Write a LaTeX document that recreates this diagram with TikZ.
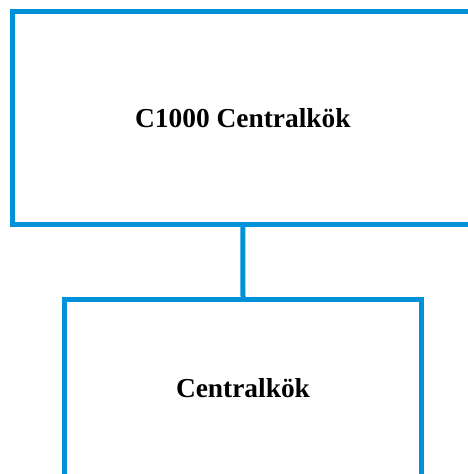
\documentclass[tikz,border=0pt]{standalone}
\usepackage{fontspec}
\setmainfont{Liberation Serif}
\definecolor{boxblue}{RGB}{0,146,216}
\begin{document}
\begin{tikzpicture}[x=1pt,y=1pt,
  orgbox/.style={draw=boxblue, line width=5pt, fill=white, font=\bfseries\fontsize{27.4}{32}\selectfont, inner sep=0pt},
  link/.style={draw=boxblue, line width=5pt}]
\useasboundingbox (0,0) rectangle (468,474);
\clip (0,0) rectangle (468,474);
\node[orgbox, minimum width=460.3pt, minimum height=212.8pt] (top) at (242.85,356) {C1000 Centralkök};
\node[orgbox, minimum width=357pt, minimum height=177pt] (bot) at (243,86) {Centralkök};
\draw[link] (top.south) -- (bot.north);
\end{tikzpicture}
\end{document}
